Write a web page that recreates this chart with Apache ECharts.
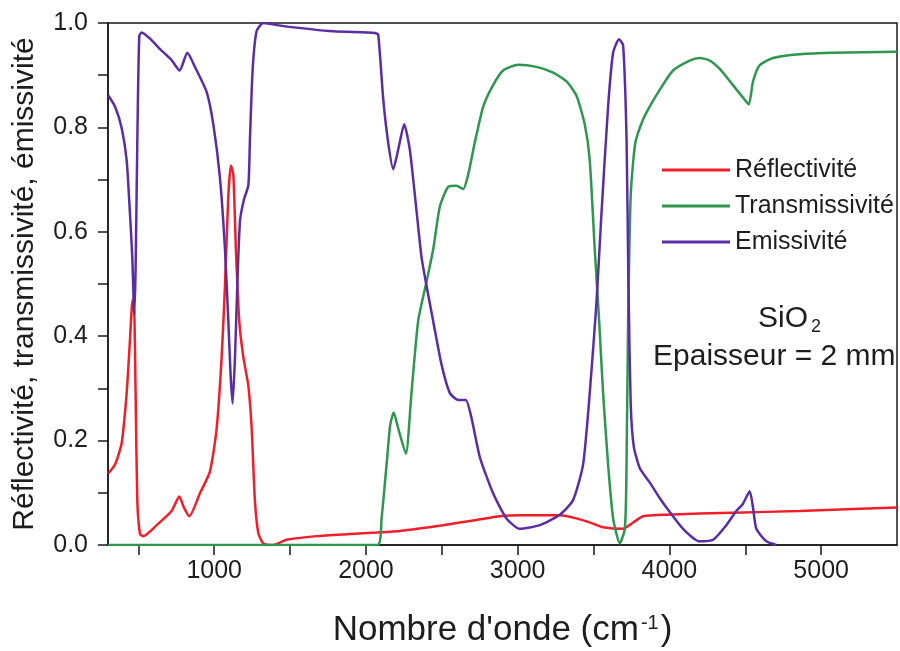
<!DOCTYPE html>
<html>
<head>
<meta charset="utf-8">
<script src="https://cdn.jsdelivr.net/npm/echarts@6/dist/echarts.min.js"></script>
<style>html,body{margin:0;padding:0;background:#fff}#c{width:900px;height:651px}</style>
</head>
<body>
<div id="c"></div>
<script>
// ---- data ----
var seriesNames = ['Réflectivité', 'Transmissivité', 'Emissivité'];

var reflX = [302,346,390,423,445,462,473,482,493,511,533,621,719,770,800,836,906,972,1016,1049,1071,1093,1110,1126,1143,1165,1192,1225,1247,1268,1290,1323,1389,1477,1675,1895,2070,2224,2509,2729,2882,3014,3278,3387,3497,3563,3695,3761,3827,3980,4419,4859,5500];
var reflY = [0.137,0.154,0.195,0.291,0.394,0.470,0.449,0.291,0.086,0.021,0.017,0.038,0.065,0.093,0.072,0.055,0.099,0.141,0.223,0.360,0.497,0.669,0.727,0.710,0.566,0.429,0.360,0.305,0.223,0.086,0.024,0.003,0.000,0.010,0.017,0.021,0.024,0.027,0.038,0.048,0.055,0.057,0.057,0.051,0.041,0.034,0.031,0.043,0.055,0.058,0.062,0.065,0.072];

var transX = [300,1000,2075,2103,2136,2160,2183,2213,2263,2300,2344,2399,2443,2487,2542,2597,2641,2674,2718,2773,2838,2904,3003,3124,3234,3322,3387,3442,3475,3508,3537,3563,3596,3629,3673,3706,3716,3728,3745,3775,3826,3870,3936,4024,4134,4200,4266,4332,4419,4485,4523,4551,4595,4683,4859,5078,5500];
var transY = [0,0,0,0.051,0.154,0.230,0.254,0.223,0.175,0.291,0.429,0.504,0.566,0.648,0.686,0.688,0.682,0.710,0.772,0.840,0.881,0.909,0.920,0.916,0.905,0.888,0.861,0.806,0.737,0.566,0.429,0.291,0.154,0.051,0.003,0.031,0.120,0.430,0.670,0.770,0.815,0.840,0.872,0.909,0.928,0.933,0.928,0.912,0.881,0.857,0.844,0.888,0.919,0.933,0.940,0.943,0.945];

var emisX = [302,346,390,423,445,460,473,482,493,506,522,577,643,719,772,823,873,950,994,1038,1071,1093,1108,1121,1137,1152,1170,1196,1225,1235,1253,1279,1323,1455,1785,2059,2081,2114,2147,2180,2213,2252,2289,2333,2366,2399,2443,2498,2553,2608,2658,2696,2751,2838,2926,3014,3146,3278,3365,3431,3475,3519,3552,3596,3629,3668,3695,3718,3730,3745,3765,3805,3870,3936,3980,4090,4200,4288,4375,4441,4485,4529,4551,4573,4639,4705];
var emisY = [0.861,0.840,0.799,0.737,0.634,0.552,0.442,0.530,0.770,0.975,0.982,0.970,0.950,0.929,0.909,0.943,0.916,0.868,0.806,0.703,0.566,0.429,0.326,0.271,0.360,0.497,0.621,0.662,0.689,0.772,0.909,0.984,1.000,0.994,0.984,0.981,0.977,0.854,0.770,0.720,0.758,0.806,0.758,0.641,0.552,0.497,0.429,0.346,0.291,0.278,0.278,0.243,0.168,0.099,0.051,0.031,0.038,0.058,0.086,0.154,0.291,0.463,0.634,0.840,0.943,0.969,0.957,0.772,0.497,0.270,0.189,0.147,0.120,0.090,0.072,0.031,0.007,0.010,0.038,0.065,0.079,0.103,0.072,0.031,0.007,0.000];

var xTickValues = [500,1000,1500,2000,2500,3000,3500,4000,4500,5000];
var xLabelValues = [1000,2000,3000,4000,5000];
var yTickValues = [0,0.1,0.2,0.3,0.4,0.5,0.6,0.7,0.8,0.9,1.0];
var yLabelValues = [0,0.2,0.4,0.6,0.8,1.0];

var colors = ['#ee1f2a', '#2f9550', '#5a2ea3'];

function pairs(xs, ys) { return xs.map(function (x, i) { return [x, ys[i]]; }); }

var FONT = 'Liberation Sans, Arial, Helvetica, sans-serif';
var chart = echarts.init(document.getElementById('c'), null, { renderer: 'canvas' });

var data = [pairs(reflX, reflY), pairs(transX, transY), pairs(emisX, emisY)];

chart.setOption({
  animation: false,
  backgroundColor: '#ffffff',
  color: colors,
  grid: { left: 108, right: 3, top: 23, bottom: 106, containLabel: false, outerBoundsMode: 'none',
          show: true, borderColor: '#1a1a1a', borderWidth: 1.5, backgroundColor: 'transparent' },
  legend: {
    orient: 'vertical', left: 657, top: 152,
    itemWidth: 68, itemHeight: 3, itemGap: 10, icon: 'rect',
    textStyle: { fontFamily: FONT, fontSize: 25, color: '#1e1e1e', lineHeight: 26 },
    data: seriesNames
  },
  xAxis: {
    type: 'value', min: 300, max: 5500,
    name: "Nombre d'onde (cm{sup|-1})",
    nameLocation: 'middle', nameGap: 68,
    nameTextStyle: { fontFamily: FONT, fontSize: 35, color: '#1e1e1e',
      rich: { sup: { fontFamily: FONT, fontSize: 20, color: '#1e1e1e', verticalAlign: 'top', padding: [0, 2, 14, 2] } } },
    splitLine: { show: false },
    axisLine: { show: true, onZero: false, lineStyle: { color: '#1a1a1a', width: 1.5 } },
    axisTick: { show: true, inside: false, length: 10, customValues: xTickValues, lineStyle: { color: '#1a1a1a', width: 1.5 } },
    axisLabel: { customValues: xLabelValues, fontFamily: FONT, fontSize: 25, color: '#1e1e1e', margin: 14,
      formatter: function (v) { return String(Math.round(v)); } }
  },
  yAxis: {
    type: 'value', min: 0, max: 1,
    name: 'Réflectivité, transmissivité, émissivité',
    nameLocation: 'middle', nameGap: 68,
    nameTextStyle: { fontFamily: FONT, fontSize: 30, color: '#1e1e1e' },
    splitLine: { show: false },
    axisLine: { show: true, lineStyle: { color: '#1a1a1a', width: 1.5 } },
    axisTick: { show: true, inside: false, length: 10, customValues: yTickValues, lineStyle: { color: '#1a1a1a', width: 1.5 } },
    axisLabel: { customValues: yLabelValues, fontFamily: FONT, fontSize: 25, color: '#1e1e1e', margin: 20,
      formatter: function (v) { return Number(v).toFixed(1); } }
  },
  graphic: [
    { type: 'text', left: 758, top: 304, z: 100,
      style: { text: '{a|SiO}{b|2}', rich: {
        a: { fontFamily: FONT, fontSize: 30, fill: '#1e1e1e', lineHeight: 34 },
        b: { fontFamily: FONT, fontSize: 18, fill: '#1e1e1e', verticalAlign: 'bottom', padding: [14, 0, 0, 3] } } } },
    { type: 'text', left: 653, top: 342, z: 100,
      style: { text: 'Epaisseur = 2 mm', fontFamily: FONT, fontSize: 30, fill: '#1e1e1e' } }
  ],
  series: seriesNames.map(function (n, i) {
    return {
      name: n, type: 'line', data: data[i],
      showSymbol: false, symbol: 'none',
      smooth: 0.2,
      lineStyle: { width: 2.5, color: colors[i] },
      itemStyle: { color: colors[i] },
      z: 2 + i
    };
  })
});
</script>
</body>
</html>
